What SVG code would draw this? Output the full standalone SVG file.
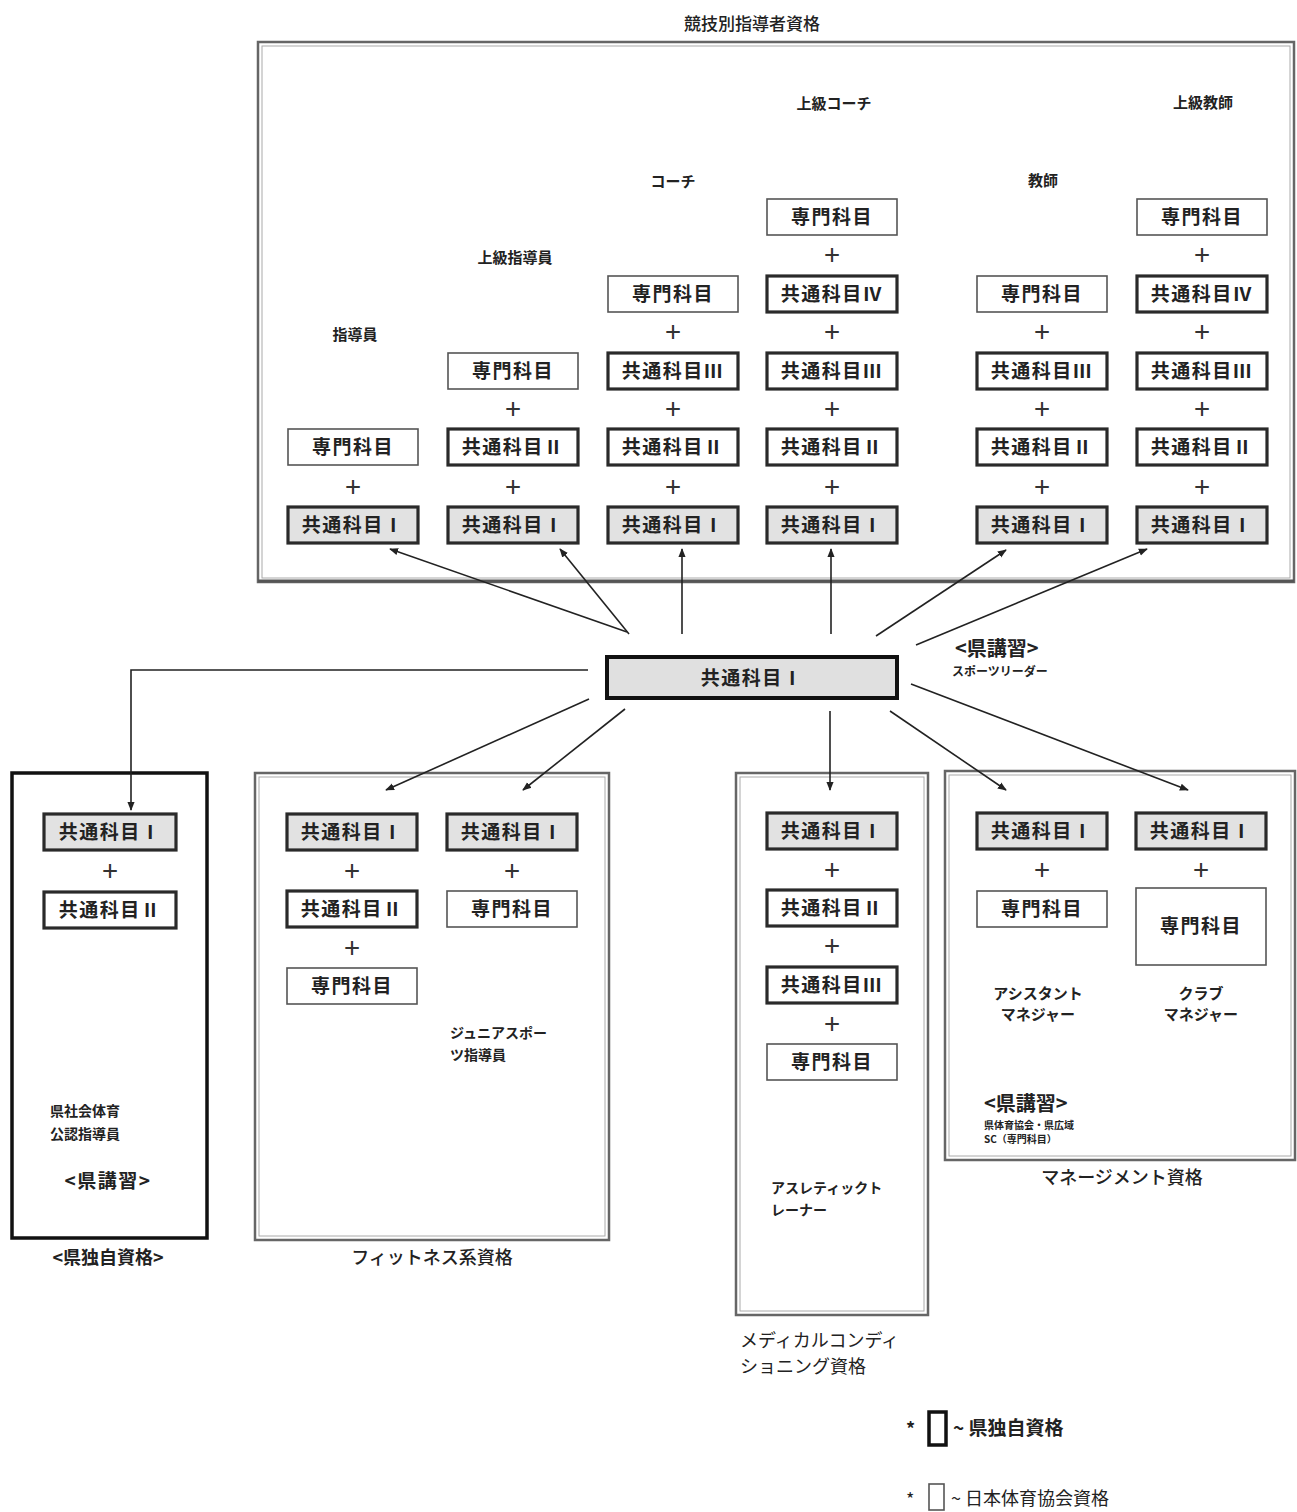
<svg xmlns="http://www.w3.org/2000/svg" width="1297" height="1512" viewBox="0 0 1297 1512">
<defs>
<style>
text{font-family:"Noto Sans CJK JP","Noto Sans CJK SC",sans-serif;fill:#222}
.s{fill:#fff;stroke:#555;stroke-width:1.6}
.k{fill:#fff;stroke:#2a2a2a;stroke-width:3.2}
.k1{fill:#e2e2e2;stroke:#2a2a2a;stroke-width:3.2}
.t{font-size:19px;font-weight:700;text-anchor:middle;letter-spacing:1.5px}
.p{font-size:28px;font-weight:400;text-anchor:middle;fill:#333}
.lbl{font-size:15px;font-weight:700;text-anchor:middle}
.cap{font-size:18px;font-weight:500;text-anchor:middle}
.frame{fill:#fff;stroke:#666;stroke-width:2.5}
.inner{fill:none;stroke:#aaa;stroke-width:1}
.con{stroke:#222;stroke-width:1.6;fill:none;marker-end:url(#ah)}
</style>
<marker id="ah" viewBox="0 0 10 10" refX="9" refY="5" markerWidth="9" markerHeight="9" markerUnits="userSpaceOnUse" orient="auto">
<path d="M0,1 L10,5 L0,9 z" fill="#222"/>
</marker>
</defs>
<rect width="1297" height="1512" fill="#fff"/>

<!-- top container -->
<g id="top-container">
<rect class="frame" x="258" y="42" width="1036" height="540"/>
<rect class="inner" x="262" y="46" width="1028" height="532"/>
<line x1="258" y1="581" x2="1294" y2="581" stroke="#555" stroke-width="3"/>
<text x="752" y="30" class="cap" font-weight="700" style="font-size:17px">競技別指導者資格</text>
<text x="355" y="340" class="lbl">指導員</text>
<text x="515" y="263" class="lbl">上級指導員</text>
<text x="673" y="187" class="lbl">コーチ</text>
<text x="834" y="109" class="lbl">上級コーチ</text>
<text x="1043" y="186" class="lbl">教師</text>
<text x="1203" y="108" class="lbl">上級教師</text>
</g>

<!-- column 1 指導員 -->
<g id="col1">
<rect class="s" x="288" y="429" width="130" height="36"/><text class="t" x="353" y="454">専門科目</text>
<text class="p" x="353" y="497">+</text>
<rect class="k1" x="288" y="507" width="130" height="36"/><text class="t" x="353" y="532">共通科目Ⅰ</text>
</g>
<!-- column 2 上級指導員 -->
<g id="col2">
<rect class="s" x="448" y="353" width="130" height="36"/><text class="t" x="513" y="378">専門科目</text>
<text class="p" x="513" y="419">+</text>
<rect class="k" x="448" y="429" width="130" height="36"/><text class="t" x="513" y="454">共通科目Ⅱ</text>
<text class="p" x="513" y="497">+</text>
<rect class="k1" x="448" y="507" width="130" height="36"/><text class="t" x="513" y="532">共通科目Ⅰ</text>
</g>
<!-- column 3 コーチ -->
<g id="col3">
<rect class="s" x="608" y="276" width="130" height="36"/><text class="t" x="673" y="301">専門科目</text>
<text class="p" x="673" y="342">+</text>
<rect class="k" x="608" y="353" width="130" height="36"/><text class="t" x="673" y="378">共通科目Ⅲ</text>
<text class="p" x="673" y="419">+</text>
<rect class="k" x="608" y="429" width="130" height="36"/><text class="t" x="673" y="454">共通科目Ⅱ</text>
<text class="p" x="673" y="497">+</text>
<rect class="k1" x="608" y="507" width="130" height="36"/><text class="t" x="673" y="532">共通科目Ⅰ</text>
</g>
<!-- column 4 上級コーチ -->
<g id="col4">
<rect class="s" x="767" y="199" width="130" height="36"/><text class="t" x="832" y="224">専門科目</text>
<text class="p" x="832" y="265">+</text>
<rect class="k" x="767" y="276" width="130" height="36"/><text class="t" x="832" y="301">共通科目Ⅳ</text>
<text class="p" x="832" y="342">+</text>
<rect class="k" x="767" y="353" width="130" height="36"/><text class="t" x="832" y="378">共通科目Ⅲ</text>
<text class="p" x="832" y="419">+</text>
<rect class="k" x="767" y="429" width="130" height="36"/><text class="t" x="832" y="454">共通科目Ⅱ</text>
<text class="p" x="832" y="497">+</text>
<rect class="k1" x="767" y="507" width="130" height="36"/><text class="t" x="832" y="532">共通科目Ⅰ</text>
</g>
<!-- column 5 教師 -->
<g id="col5">
<rect class="s" x="977" y="276" width="130" height="36"/><text class="t" x="1042" y="301">専門科目</text>
<text class="p" x="1042" y="342">+</text>
<rect class="k" x="977" y="353" width="130" height="36"/><text class="t" x="1042" y="378">共通科目Ⅲ</text>
<text class="p" x="1042" y="419">+</text>
<rect class="k" x="977" y="429" width="130" height="36"/><text class="t" x="1042" y="454">共通科目Ⅱ</text>
<text class="p" x="1042" y="497">+</text>
<rect class="k1" x="977" y="507" width="130" height="36"/><text class="t" x="1042" y="532">共通科目Ⅰ</text>
</g>
<!-- column 6 上級教師 -->
<g id="col6">
<rect class="s" x="1137" y="199" width="130" height="36"/><text class="t" x="1202" y="224">専門科目</text>
<text class="p" x="1202" y="265">+</text>
<rect class="k" x="1137" y="276" width="130" height="36"/><text class="t" x="1202" y="301">共通科目Ⅳ</text>
<text class="p" x="1202" y="342">+</text>
<rect class="k" x="1137" y="353" width="130" height="36"/><text class="t" x="1202" y="378">共通科目Ⅲ</text>
<text class="p" x="1202" y="419">+</text>
<rect class="k" x="1137" y="429" width="130" height="36"/><text class="t" x="1202" y="454">共通科目Ⅱ</text>
<text class="p" x="1202" y="497">+</text>
<rect class="k1" x="1137" y="507" width="130" height="36"/><text class="t" x="1202" y="532">共通科目Ⅰ</text>
</g>

<!-- central node -->
<g id="center">
<rect x="607" y="657" width="290" height="41" fill="#e0e0e0" stroke="#111" stroke-width="4"/>
<text class="t" x="752" y="685">共通科目Ⅰ</text>
<text x="955" y="656" style="font-size:20px;font-weight:700">&lt;県講習&gt;</text>
<text x="952" y="676" style="font-size:12px;font-weight:700">スポーツリーダー</text>
</g>

<!-- 県独自資格 -->
<g id="ken-dokuji">
<rect x="12" y="773" width="195" height="465" fill="#fff" stroke="#111" stroke-width="3.5"/>
<rect class="k1" x="44" y="814" width="132" height="36"/><text class="t" x="110" y="839">共通科目Ⅰ</text>
<text class="p" x="110" y="881">+</text>
<rect class="k" x="44" y="892" width="132" height="36"/><text class="t" x="110" y="917">共通科目Ⅱ</text>
<text x="50" y="1116" style="font-size:14px;font-weight:700">県社会体育</text>
<text x="50" y="1139" style="font-size:14px;font-weight:700">公認指導員</text>
<text x="108" y="1188" class="t" style="font-size:19px">&lt;県講習&gt;</text>
<text x="108" y="1264" class="cap" style="font-weight:700">&lt;県独自資格&gt;</text>
</g>

<!-- フィットネス系資格 -->
<g id="fitness">
<rect class="frame" x="255" y="773" width="354" height="467"/>
<rect class="inner" x="259" y="777" width="346" height="459"/>
<rect class="k1" x="287" y="814" width="130" height="36"/><text class="t" x="352" y="839">共通科目Ⅰ</text>
<text class="p" x="352" y="881">+</text>
<rect class="k" x="287" y="891" width="130" height="36"/><text class="t" x="352" y="916">共通科目Ⅱ</text>
<text class="p" x="352" y="958">+</text>
<rect class="s" x="287" y="968" width="130" height="36"/><text class="t" x="352" y="993">専門科目</text>
<rect class="k1" x="447" y="814" width="130" height="36"/><text class="t" x="512" y="839">共通科目Ⅰ</text>
<text class="p" x="512" y="881">+</text>
<rect class="s" x="447" y="891" width="130" height="36"/><text class="t" x="512" y="916">専門科目</text>
<text x="450" y="1038" style="font-size:14px;font-weight:700">ジュニアスポー</text>
<text x="450" y="1060" style="font-size:14px;font-weight:700">ツ指導員</text>
<text x="432" y="1264" class="cap">フィットネス系資格</text>
</g>

<!-- メディカルコンディショニング資格 -->
<g id="medical">
<rect class="frame" x="736" y="773" width="192" height="542"/>
<rect class="inner" x="740" y="777" width="184" height="534"/>
<rect class="k1" x="767" y="813" width="130" height="36"/><text class="t" x="832" y="838">共通科目Ⅰ</text>
<text class="p" x="832" y="880">+</text>
<rect class="k" x="767" y="890" width="130" height="36"/><text class="t" x="832" y="915">共通科目Ⅱ</text>
<text class="p" x="832" y="956">+</text>
<rect class="k" x="767" y="967" width="130" height="36"/><text class="t" x="832" y="992">共通科目Ⅲ</text>
<text class="p" x="832" y="1034">+</text>
<rect class="s" x="767" y="1044" width="130" height="36"/><text class="t" x="832" y="1069">専門科目</text>
<text x="771" y="1193" style="font-size:14px;font-weight:700">アスレティックト</text>
<text x="771" y="1215" style="font-size:14px;font-weight:700">レーナー</text>
<text x="740" y="1347" style="font-size:18px">メディカルコンディ</text>
<text x="740" y="1373" style="font-size:18px">ショニング資格</text>
</g>

<!-- マネージメント資格 -->
<g id="management">
<rect class="frame" x="945" y="771" width="350" height="389"/>
<rect class="inner" x="949" y="775" width="342" height="381"/>
<rect class="k1" x="977" y="813" width="130" height="36"/><text class="t" x="1042" y="838">共通科目Ⅰ</text>
<text class="p" x="1042" y="880">+</text>
<rect class="s" x="977" y="891" width="130" height="36"/><text class="t" x="1042" y="916">専門科目</text>
<rect class="k1" x="1136" y="813" width="130" height="36"/><text class="t" x="1201" y="838">共通科目Ⅰ</text>
<text class="p" x="1201" y="880">+</text>
<rect class="s" x="1136" y="888" width="130" height="77"/><text class="t" x="1201" y="933">専門科目</text>
<text x="1038" y="999" style="font-size:15px;font-weight:700;text-anchor:middle">アシスタント</text>
<text x="1038" y="1020" style="font-size:15px;font-weight:700;text-anchor:middle">マネジャー</text>
<text x="1201" y="999" style="font-size:15px;font-weight:700;text-anchor:middle">クラブ</text>
<text x="1201" y="1020" style="font-size:15px;font-weight:700;text-anchor:middle">マネジャー</text>
<text x="984" y="1111" style="font-size:20px;font-weight:700">&lt;県講習&gt;</text>
<text x="984" y="1129" style="font-size:10px;font-weight:700">県体育協会・県広域</text>
<text x="984" y="1143" style="font-size:10px;font-weight:700">SC（専門科目）</text>
<text x="1122" y="1184" class="cap">マネージメント資格</text>
</g>

<!-- connectors -->
<g id="connectors">
<line class="con" x1="627" y1="632" x2="390" y2="549"/>
<line class="con" x1="629" y1="634" x2="560" y2="549"/>
<line class="con" x1="682" y1="634" x2="682" y2="549"/>
<line class="con" x1="831" y1="634" x2="831" y2="549"/>
<line class="con" x1="876" y1="636" x2="1006" y2="550"/>
<line class="con" x1="916" y1="645" x2="1147" y2="549"/>
<polyline class="con" points="588,670 131,670 131,810"/>
<line class="con" x1="589" y1="699" x2="386" y2="790"/>
<line class="con" x1="625" y1="709" x2="523" y2="790"/>
<line class="con" x1="830" y1="711" x2="830" y2="790"/>
<line class="con" x1="890" y1="711" x2="1006" y2="790"/>
<line class="con" x1="911" y1="684" x2="1188" y2="790"/>
</g>

<!-- legend -->
<g id="legend">
<text x="906" y="1436" style="font-size:18px;font-weight:700">*</text>
<rect x="929" y="1412" width="17" height="33" fill="#fff" stroke="#111" stroke-width="3.5"/>
<text x="953" y="1435" style="font-size:19px;font-weight:700">~ 県独自資格</text>
<text x="906" y="1506" style="font-size:18px">*</text>
<rect x="929" y="1484" width="15" height="26" fill="#fff" stroke="#555" stroke-width="1.6"/>
<text x="951" y="1505" style="font-size:18px">~ 日本体育協会資格</text>
</g>
</svg>
